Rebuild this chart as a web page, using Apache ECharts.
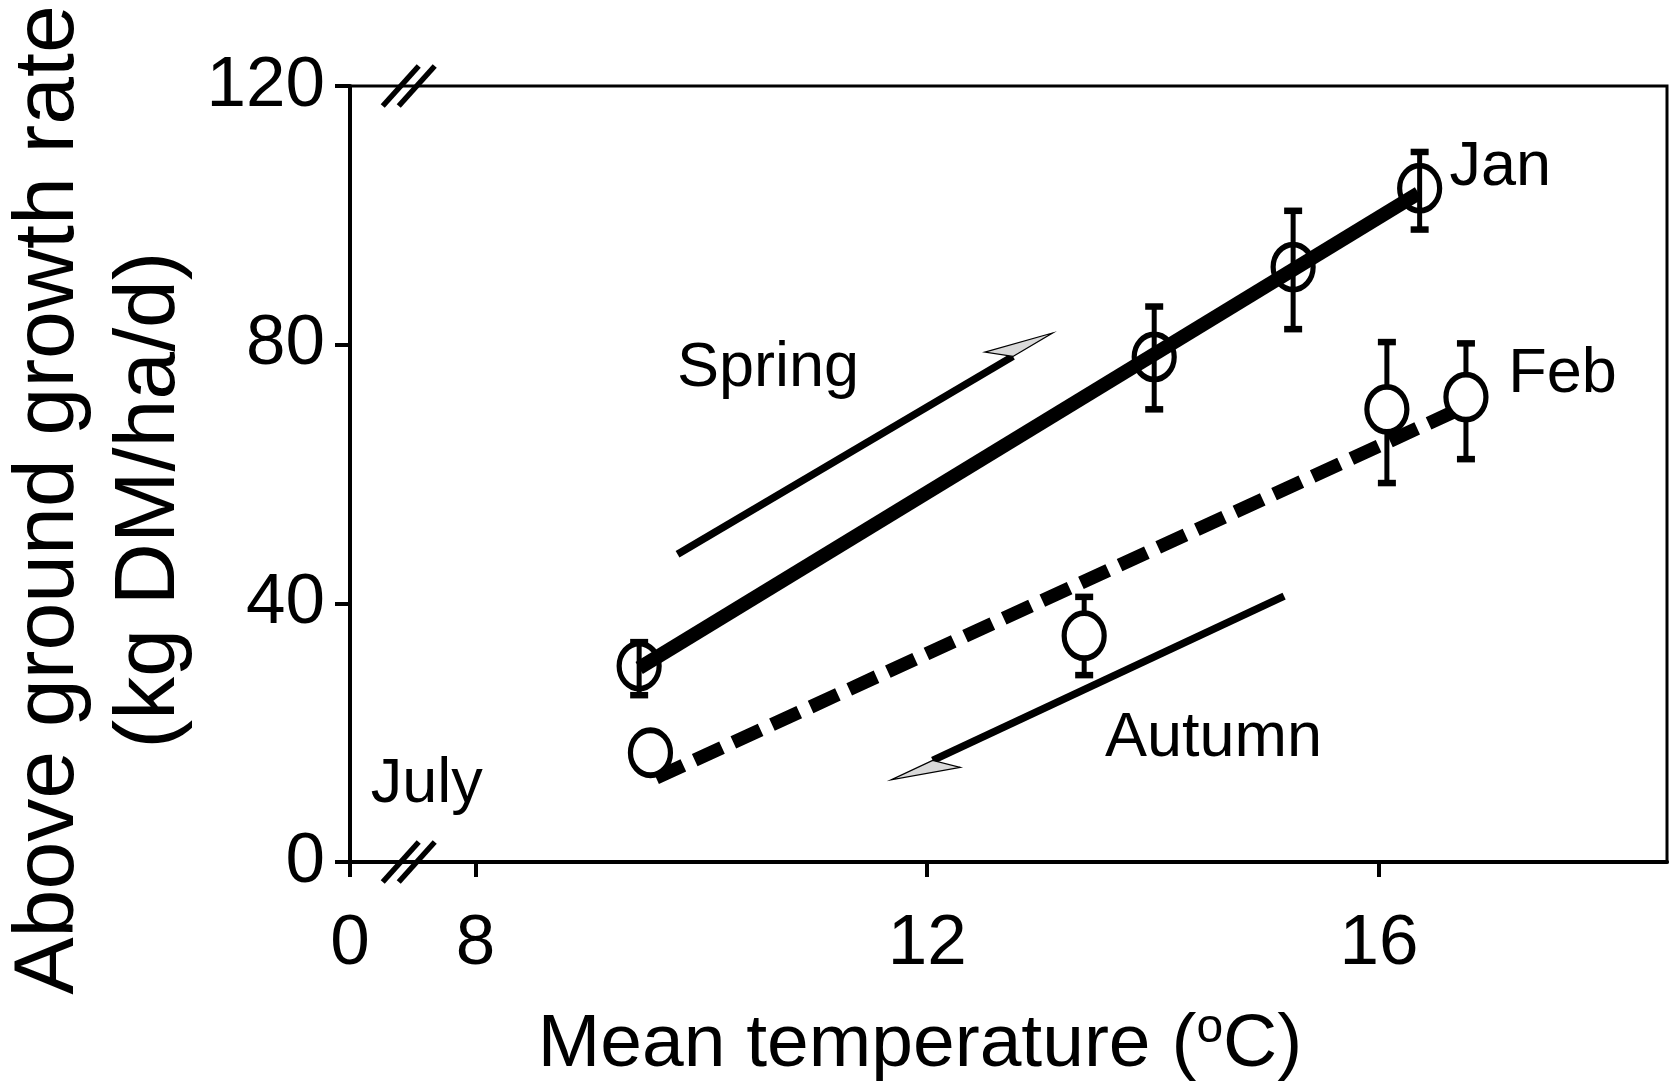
<!DOCTYPE html>
<html>
<head>
<meta charset="utf-8">
<title>Above ground growth rate vs mean temperature</title>
<script src="https://cdn.jsdelivr.net/npm/echarts@6/dist/echarts.min.js"></script>
<style>
  html, body { margin: 0; padding: 0; background: #fff; }
  #chart { width: 1675px; height: 1088px; }
</style>
</head>
<body>
<div id="chart"></div>
<script>
// x axis is broken: its left edge stands for 0 oC, the scale proper starts at 8
const X_ZERO = 6.89
const X_MAX = 18.55
const xTickValues = [X_ZERO, 8, 12, 16]

// spring (solid line, open circles)
const springTemp = [9.45, 14.01, 15.24, 16.36]
const springGrowth = [30.3, 78.1, 92.0, 104.2]
const springLow = [25.8, 70.0, 82.4, 97.8]
const springHigh = [34.0, 85.9, 100.7, 109.8]

// autumn (dashed line, white circles)
const autumnTemp = [9.55, 13.39, 16.07, 16.77]
const autumnGrowth = [16.9, 35.0, 70.0, 71.9]
const autumnLow = [16.9, 28.9, 58.6, 62.3]
const autumnHigh = [16.9, 41.0, 80.4, 80.2]

// fitted lines (end points)
const springFit = [[9.45, 30.0], [16.35, 103.4]]
const autumnFit = [[9.60, 13.0], [16.77, 70.5]]

// text notes and arrows, in data units
const noteText = ['Spring', 'Autumn', 'July', 'Jan', 'Feb']
const noteX = [9.78, 13.57, 7.07, 16.62, 17.14]
const noteY = [76.3, 19.1, 11.9, 107.4, 75.3]
const arrowFrom = [[9.79, 47.6], [15.16, 41.1]]
const arrowTo = [[13.11, 81.8], [11.68, 12.7]]
const breakAt = [[7.41, 0], [7.41, 120]]

const FONT = "'Liberation Sans', Arial, Helvetica, sans-serif"

const zip4 = (a, b, c) => a.map((v, i) => [v, b[i], c[i]])

function renderErrorBar (params, api) {
	const x = api.value(0)
	const lo = api.coord([x, api.value(1)])
	const hi = api.coord([x, api.value(2)])
	if (Math.abs(lo[1] - hi[1]) < 1) return null
	const w = 9
	const st = { stroke: '#000', lineWidth: 5 }
	const cap = { stroke: '#000', lineWidth: 6.5 }
	return {
		type: 'group',
		children: [
			{ type: 'line', shape: { x1: lo[0], y1: lo[1], x2: hi[0], y2: hi[1] }, style: st },
			{ type: 'line', shape: { x1: lo[0] - w, y1: lo[1], x2: lo[0] + w, y2: lo[1] }, style: cap },
			{ type: 'line', shape: { x1: hi[0] - w, y1: hi[1], x2: hi[0] + w, y2: hi[1] }, style: cap }
		]
	}
}

function renderArrow (params, api) {
	const a = api.coord([api.value(0), api.value(1)])
	const b = api.coord([api.value(2), api.value(3)])
	const len = Math.hypot(b[0] - a[0], b[1] - a[1])
	const ux = (b[0] - a[0]) / len
	const uy = (b[1] - a[1]) / len
	const px = -uy
	const py = ux
	const end = [b[0] - 46 * ux, b[1] - 46 * uy]
	const back = [end[0] - 22 * ux - 18 * px, end[1] - 22 * uy - 18 * py]
	return {
		type: 'group',
		children: [
			{ type: 'line', shape: { x1: a[0], y1: a[1], x2: end[0], y2: end[1] }, style: { stroke: '#000', lineWidth: 7.5 } },
			{ type: 'polygon', shape: { points: [end, b, back] }, style: { fill: '#d9d9d9', stroke: '#000', lineWidth: 1.2 } }
		]
	}
}

function renderBreak (params, api) {
	const c = api.coord([api.value(0), api.value(1)])
	const st = { stroke: '#000', lineWidth: 5.5 }
	const slash = dx => ({
		type: 'line',
		shape: { x1: c[0] + dx - 18, y1: c[1] + 20, x2: c[0] + dx + 18, y2: c[1] - 20 },
		style: st
	})
	return { type: 'group', children: [slash(-8), slash(8)] }
}

const chart = echarts.init(document.getElementById('chart'))

chart.setOption({
	animation: false,
	backgroundColor: '#fff',
	grid: {
		left: 350,
		right: 8,
		top: 86,
		bottom: 226,
		show: true,
		borderColor: '#000',
		borderWidth: 3
	},
	xAxis: {
		type: 'value',
		min: X_ZERO,
		max: X_MAX,
		axisLine: { show: true, onZero: false, lineStyle: { color: '#000', width: 4 } },
		axisTick: { show: true, customValues: xTickValues, length: 15, lineStyle: { color: '#000', width: 4 } },
		axisLabel: {
			customValues: xTickValues,
			margin: 47,
			color: '#000',
			fontSize: 71,
			fontFamily: FONT,
			formatter: v => (Math.abs(v - X_ZERO) < 1e-6 ? '0' : String(v))
		},
		splitLine: { show: false }
	},
	yAxis: {
		type: 'value',
		min: 0,
		max: 120,
		interval: 40,
		axisLine: { show: true, lineStyle: { color: '#000', width: 4 } },
		axisTick: { show: true, length: 15, lineStyle: { color: '#000', width: 4 } },
		axisLabel: { margin: 25, color: '#000', fontSize: 71, fontFamily: FONT },
		splitLine: { show: false }
	},
	graphic: [
		{
			type: 'text',
			x: 100,
			y: 500,
			rotation: Math.PI / 2,
			style: {
				text: 'Above ground growth rate\n(kg DM/ha/d)',
				fill: '#000',
				fontSize: 86,
				fontFamily: FONT,
				lineHeight: 101,
				align: 'center',
				verticalAlign: 'middle'
			}
		},
		{
			type: 'text',
			x: 920,
			y: 1045,
			style: {
				text: 'Mean temperature ({sup|o}C)',
				fill: '#000',
				fontSize: 75,
				fontFamily: FONT,
				lineHeight: 80,
				align: 'center',
				verticalAlign: 'middle',
				rich: {
					sup: { fontSize: 48, fontFamily: FONT, fill: '#000', lineHeight: 48, verticalAlign: 'top' }
				}
			}
		}
	],
	series: [
		{
			name: 'spring fit',
			type: 'line',
			data: springFit,
			symbol: 'none',
			z: 2,
			lineStyle: { color: '#000', width: 14, cap: 'butt', opacity: 1 }
		},
		{
			name: 'autumn fit',
			type: 'line',
			data: autumnFit,
			symbol: 'none',
			z: 2,
			lineStyle: { color: '#000', width: 13.5, type: [30, 12.5], cap: 'butt', opacity: 1 }
		},
		{
			name: 'spring error',
			type: 'custom',
			renderItem: renderErrorBar,
			data: zip4(springTemp, springLow, springHigh),
			z: 3
		},
		{
			name: 'autumn error',
			type: 'custom',
			renderItem: renderErrorBar,
			data: zip4(autumnTemp, autumnLow, autumnHigh),
			z: 3
		},
		{
			name: 'spring',
			type: 'scatter',
			data: springTemp.map((t, i) => [t, springGrowth[i]]),
			symbol: 'circle',
			symbolSize: [40, 45],
			z: 4,
			itemStyle: { color: 'rgba(0,0,0,0)', borderColor: '#000', borderWidth: 5.5, opacity: 1 }
		},
		{
			name: 'autumn',
			type: 'scatter',
			data: autumnTemp.map((t, i) => [t, autumnGrowth[i]]),
			symbol: 'circle',
			symbolSize: [40, 45],
			z: 4,
			itemStyle: { color: '#fff', borderColor: '#000', borderWidth: 5.5, opacity: 1 }
		},
		{
			name: 'arrows',
			type: 'custom',
			renderItem: renderArrow,
			data: arrowFrom.map((f, i) => [f[0], f[1], arrowTo[i][0], arrowTo[i][1]]),
			z: 3
		},
		{
			name: 'axis breaks',
			type: 'custom',
			renderItem: renderBreak,
			clip: false,
			data: breakAt,
			z: 6
		},
		{
			name: 'notes',
			type: 'scatter',
			data: noteX.map((x, i) => ({ value: [x, noteY[i]], name: noteText[i] })),
			symbolSize: 1,
			itemStyle: { color: 'rgba(0,0,0,0)', opacity: 1 },
			z: 5,
			label: {
				show: true,
				position: 'right',
				distance: 0,
				formatter: p => p.name,
				color: '#000',
				opacity: 1,
				fontSize: 63,
				fontFamily: FONT
			}
		}
	]
})
window.addEventListener('resize', chart.resize)
</script>
</body>
</html>
